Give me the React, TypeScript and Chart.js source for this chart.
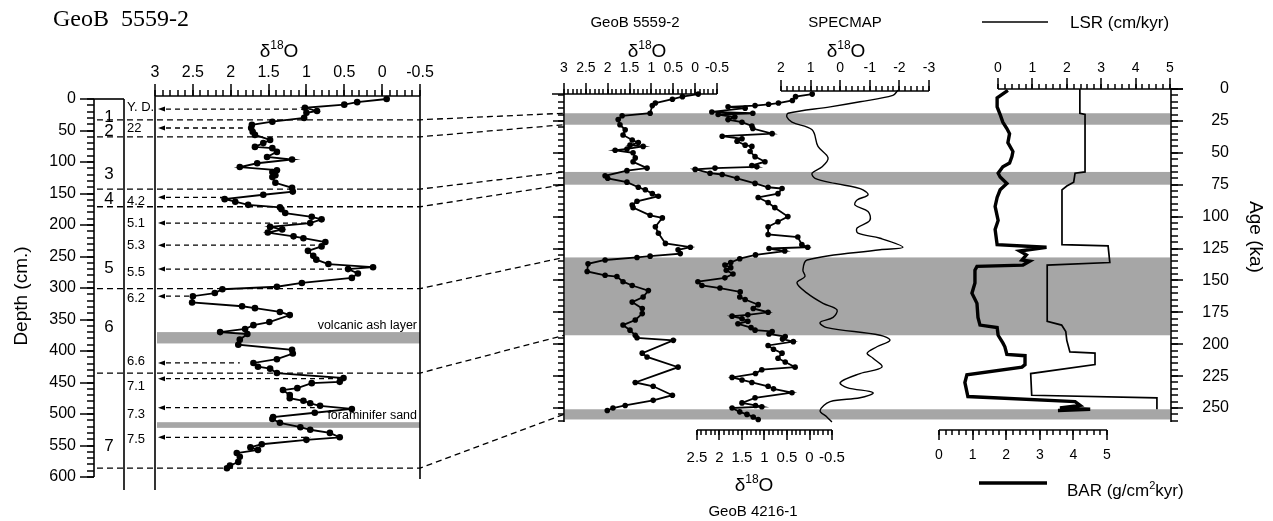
import React, { useEffect, useRef } from "react";
import { Chart, registerables } from "chart.js";
Chart.register(...registerables);

const W = 1273, H = 521, PAD = 20;
const FF = '"Liberation Sans", Arial, Helvetica, sans-serif';
const SERIF = '"Liberation Serif", "Times New Roman", serif';
const GRAY = "#a6a6a6";

// ---------------- data ----------------
// GeoB 5559-2 : d18O versus depth (cm)
const coreDepth = [0,5,9,14,19,22,30,36,41,46,52,57,65,70,76,78,84,92,96,102,108,113,116,121,124,133,141,147,152,159,163,168,172,175,181,187,191,197,203,207,212,218,221,227,234,241,249,255,262,267,270,277,284,292,298,302,308,313,323,329,332,338,343,354,359,365,370,373,382,390,398,404,413,419,425,428,435,443,449,451,459,462,470,475,479,483,487,492,498,505,508,514,521,525,530,537,541,548,553,557,562,568,576,582,586];
const coreD18O = [-0.06,0.33,0.50,1.02,0.86,1.00,1.03,1.45,1.72,1.73,1.71,1.68,1.48,1.57,1.68,1.45,1.39,1.52,1.19,1.65,1.88,1.39,1.45,1.41,1.45,1.41,1.19,1.18,1.57,2.08,1.94,1.77,1.35,1.33,1.28,0.93,0.80,0.95,1.48,1.32,1.51,1.17,1.04,0.75,0.80,0.98,0.91,0.87,0.71,0.12,0.45,0.32,0.40,1.06,1.39,2.11,2.21,2.50,2.51,1.85,1.68,1.35,1.22,1.49,1.70,1.81,2.14,1.78,1.88,1.90,1.19,1.18,1.39,1.70,1.64,1.48,1.39,0.51,0.56,0.93,1.12,1.31,1.22,1.22,1.04,0.95,0.82,0.40,0.89,1.44,1.45,1.35,1.08,0.95,0.69,0.56,1.00,1.59,1.74,1.64,1.92,1.88,1.90,2.01,2.05];
// GeoB 5559-2 : d18O versus age (ka)
const geoB5559Age = [4,6,8,11,13,19,21,24,28,32,36,40,42,44,45,47,48,50,54,57,62,64,68,70,73,77,79,82,84,88,91,93,99,101,108,113,121,124,126,129,131,132,134,137,143,146,147,151,154,158,163,167,172,176,181,185,189,193,195,197,207,210,218,230,233,240,244,248,250,252];
const geoB5559D18O = [-0.07,0.29,0.52,0.91,0.98,1.03,1.67,1.76,1.72,1.60,1.65,1.44,1.30,1.49,1.19,1.56,1.83,1.42,1.37,1.42,1.10,1.56,2.06,2.00,1.56,1.30,1.14,0.98,0.84,1.33,1.44,1.42,1.03,0.75,0.91,0.84,0.68,0.11,0.39,0.34,1.03,1.33,2.06,2.45,2.47,2.06,1.79,1.65,1.44,1.07,1.19,1.44,1.21,1.21,1.37,1.65,1.49,1.37,1.33,0.50,1.21,1.10,0.39,1.37,0.96,0.52,0.96,1.60,1.88,2.01];
// GeoB 4216-1 : d18O versus age (ka)
const geoB4216Age = [4,6,9,11,12,13,14,15,18,19,20,22,24,26,29,31,35,37,39,41,44,45,49,53,57,60,61,62,63,66,67,70,74,77,78,82,85,89,93,100,104,108,114,116,122,124,125,127,130,133,136,138,140,142,145,148,151,154,156,159,163,165,169,172,175,177,178,180,182,184,187,189,190,192,194,196,198,201,204,207,211,214,218,220,223,226,228,230,233,235,238,242,246,248,249,250,253,255,257,259];
const geoB4216D18O = [-0.06,0.31,0.38,0.69,0.91,1.21,1.81,1.43,2.17,1.26,2.03,1.66,1.81,1.50,1.28,1.26,0.83,1.94,1.50,1.61,1.43,1.28,1.32,1.21,0.99,1.28,1.17,2.10,2.54,2.21,1.94,1.61,1.21,0.92,0.61,0.70,1.14,0.92,0.77,0.48,0.70,0.92,0.92,0.26,0.17,0.04,0.90,0.55,1.20,1.55,1.75,1.88,1.75,1.85,1.70,1.88,2.48,2.39,1.99,1.54,1.55,1.43,1.14,1.25,0.92,1.37,1.72,1.50,1.37,1.59,1.30,1.21,0.83,0.90,0.54,0.60,0.36,0.92,0.80,0.61,0.70,0.54,0.32,1.06,1.20,1.72,1.50,1.28,0.92,0.80,0.39,1.21,1.50,1.20,1.06,1.72,1.55,1.39,1.25,1.14];
// SPECMAP stack
const specmapAge = [1,5,10,14,19,22,26,32,45,54,61,66,70,74,77,79,83,87,91,96,103,109,113,117,124,126,134,142,147,152,160,168,173,179,183,187,193,197,202,207,211,218,223,230,234,238,242,245,252,257,261];
const specmapD18O = [-1.95,-1.78,-0.67,0.34,1.76,1.80,1.63,0.95,0.75,0.41,0.61,0.95,0.85,0.18,-0.50,-0.77,-0.94,-0.57,-0.50,-0.94,-1.00,-0.57,-0.60,-1.35,-2.12,-1.35,1.12,1.26,1.19,1.46,1.12,0.58,0.11,0.24,0.68,0.45,-1.35,-1.68,-1.24,-0.91,-1.11,-1.41,-0.67,0.00,-0.23,-1.11,-0.67,0.34,0.68,0.45,0.28];
// LSR (cm/kyr)
const lsrAge = [0,19,20,65,66,73,76,79,122,123,136,138,182,185,190,197,206,207,216,223,240,242,251];
const lsrValue = [2.38,2.38,2.53,2.53,2.24,2.20,2.00,1.86,1.86,3.20,3.25,1.43,1.43,1.85,1.97,2.00,2.09,2.82,2.82,0.95,0.98,4.62,4.62];
// BAR (g/cm2 kyr)
const barAge = [1,7,14,20,26,31,35,42,49,53,58,61,66,69,74,79,85,92,103,110,122,124,127,130,134,135,138,139,142,152,160,168,179,185,187,193,199,202,208,209,216,218,224,230,241,245,248,250,251,252];
const barValue = [2.05,1.73,1.73,1.82,1.90,2.02,2.10,2.05,2.20,2.17,2.10,1.90,1.76,1.82,2.02,1.82,1.73,1.67,1.76,1.67,1.73,3.20,2.40,2.60,2.47,2.70,2.50,1.13,1.07,1.07,0.98,1.13,1.16,1.22,1.73,1.76,1.90,1.96,2.02,2.56,2.56,2.47,0.83,0.77,0.86,4.05,4.20,3.60,4.50,3.54];

// stages, events, layers
const stageNames = ["1","2","3","4","5","6","7"];
const stageLabelDepth = [29,52,119,160,268,363,551];
const stageBoundaryDepth = [33,60,143,171,301,435,586];
const stageBoundaryAge = [19,28,65,75,132,193,255];
const eventNames = ["Y. D.","22","4.2","5.1","5.3","5.5","6.2","6.6","7.1","7.3","7.5"];
const eventLabelDepth = [14,47,162,197,232,276,316,417,457,500,540];
const eventArrowDepth = [16,46,156,197,232,270,313,419,444,490,537];
const eventArrowEnd = [0.99,1.84,2.08,0.95,0.82,0.42,2.54,1.88,0.56,0.89,0.95];
const layerNames = ["volcanic ash layer","foraminifer sand"];
const layerDepths = [[370,388],[513,522]];
const layerLabelDepth = [359,503];
const glacialAges = [[19,28],[65,75],[132,193],[251,259]];

// tick labels
const d18OTicks = [3,2.5,2,1.5,1,0.5,0,-0.5];
const d18OLabels = ["3","2.5","2","1.5","1","0.5","0","-0.5"];
const d2Ticks = [2.5,2,1.5,1,0.5,0,-0.5];
const d2Labels = ["2.5","2","1.5","1","0.5","0","-0.5"];
const specTicks = [2,1,0,-1,-2,-3];
const specLabels = ["2","1","0","-1","-2","-3"];
const rateTicks = [0,1,2,3,4,5];
const rateLabels = ["0","1","2","3","4","5"];
const depthTicks = [0,50,100,150,200,250,300,350,400,450,500,550,600];
const depthLabels = ["0","50","100","150","200","250","300","350","400","450","500","550","600"];
const ageTicks = [0,25,50,75,100,125,150,175,200,225,250];
const ageLabels = ["0","25","50","75","100","125","150","175","200","225","250"];

// ---------------- layout: pixel anchors of each value scale ----------------
const MAP: any = {
  dL: [3, 155, -0.5, 420],
  depth: [0, 99, 600, 477],
  d1: [3, 564, -0.5, 717],
  age: [0, 89, 250, 408],
  spec: [2, 781, -3, 929],
  lsr: [0, 998, 5, 1170],
  d2: [2.5, 697, -0.5, 832],
  bar: [0, 939, 5, 1107],
};
const VERTICAL: any = { depth: true, age: true };
function valAt(map: string, px: number) {
  const [v1, p1, v2, p2] = MAP[map];
  return v1 + (px - p1) * (v2 - v1) / (p2 - p1);
}
function rangeFor(map: string, area: any) {
  const vertical = !!VERTICAL[map];
  const start = vertical ? area.top : area.left;
  const len = vertical ? area.bottom - area.top : area.right - area.left;
  const [v1, p1, v2, p2] = MAP[map];
  const s = (p2 - p1) / (v2 - v1);
  const a = v1 + (start - p1) / s, b = v1 + (start + len - p1) / s;
  return { min: Math.min(a, b), max: Math.max(a, b), reverse: vertical ? s > 0 : s < 0 };
}
function steps(a: number, b: number, st: number) {
  const n = Math.round(Math.abs(b - a) / st);
  const sg = b > a ? 1 : -1;
  return Array.from({ length: n + 1 }, (_, i) => Math.round((a + sg * i * st) * 1000) / 1000);
}

// rulers: "cross" = perpendicular scale used to place the ruler on its pixel line
const RULERS: any[] = [
  { id: "rDL", map: "dL", cross: "age", line: 96, dir: -1, majorLen: 12, minorLen: 6, major: d18OTicks, minor: steps(3, -0.5, 0.1), labels: d18OLabels, labelPos: 73, font: 16 },
  { id: "rDepth", map: "depth", cross: "d1", line: 94, dir: -1, majorLen: 14, minorLen: 7, major: depthTicks, minor: steps(0, 600, 10), labels: depthLabels, labelPos: 76, font: 16 },
  { id: "rD1", map: "d1", cross: "age", line: 94, dir: -1, majorLen: 11, minorLen: 5, major: d18OTicks, minor: steps(3, -0.5, 0.1), labels: d18OLabels, labelPos: 68, font: 14 },
  { id: "rAgeM", map: "age", cross: "d1", line: 564, dir: -1, majorLen: 11, minorLen: 6, major: ageTicks.slice(1), minor: steps(5, 260, 5) },
  { id: "rSpec", map: "spec", cross: "age", line: 91, dir: -1, majorLen: 11, minorLen: 5, major: specTicks, minor: steps(2, -3, 0.2), labels: specLabels, labelPos: 68, font: 14 },
  { id: "rLsr", map: "lsr", cross: "age", line: 89, dir: -1, majorLen: 11, minorLen: 5, major: rateTicks, minor: steps(0, 5, 0.2), labels: rateLabels, labelPos: 68, font: 14 },
  { id: "rAge", map: "age", cross: "lsr", line: 1171, dir: 1, majorLen: 12, minorLen: 7, major: ageTicks, minor: steps(0, 260, 5), labels: ageLabels, labelPos: 1229, font: 16 },
  { id: "rD2", map: "d2", cross: "age", line: 430, dir: 1, majorLen: 10, minorLen: 5, major: d2Ticks, minor: steps(2.5, -0.5, 0.1), labels: d2Labels, labelPos: 458, font: 15 },
  { id: "rBar", map: "bar", cross: "age", line: 430, dir: 1, majorLen: 10, minorLen: 5, major: rateTicks, minor: steps(0, 5, 0.2), labels: rateLabels, labelPos: 455, font: 14 },
];

function buildScales(area: any) {
  const scales: any = {};
  Object.keys(MAP).forEach((m) => {
    const rg = rangeFor(m, area);
    scales[m] = { type: "linear", axis: VERTICAL[m] ? "y" : "x", display: false, bounds: "data", min: rg.min, max: rg.max, reverse: rg.reverse };
  });
  for (const r of RULERS) {
    const rg = rangeFor(r.map, area);
    const isY = !!VERTICAL[r.map];
    const posVal = (px: number) => ({ [r.cross]: valAt(r.cross, px) });
    const common = { type: "linear", axis: isY ? "y" : "x", display: true, min: rg.min, max: rg.max, reverse: rg.reverse, bounds: "data", border: { display: false } };
    const tickScale = (vals: number[], L: number) => {
      let p: number;
      if (!isY) p = r.dir < 0 ? r.line - L : r.line;
      else p = r.dir < 0 ? r.line : r.line + L;
      return {
        ...common,
        position: posVal(p),
        afterBuildTicks: (s: any) => { s.ticks = vals.map((v) => ({ value: v })); },
        grid: { display: true, drawOnChartArea: false, drawTicks: true, tickLength: L, tickColor: "#000", tickWidth: 1.5, color: "rgba(0,0,0,0)", lineWidth: 0 },
        ticks: { display: false, maxTicksLimit: 1000, autoSkip: false },
      };
    };
    scales[r.id + "_mj"] = tickScale(r.major, r.majorLen);
    scales[r.id + "_mn"] = tickScale(r.minor, r.minorLen);
    if (r.labels) {
      const lh = r.font * 1.2;
      const p = !isY ? r.labelPos - lh / 2 : r.labelPos;
      scales[r.id + "_lb"] = {
        ...common,
        position: posVal(p),
        afterBuildTicks: (s: any) => { s.ticks = r.major.map((v: number) => ({ value: v })); },
        grid: { display: false, drawTicks: false, drawOnChartArea: false },
        ticks: { display: true, autoSkip: false, maxTicksLimit: 1000, maxRotation: 0, minRotation: 0, padding: 0, color: "#000", font: { family: FF, size: r.font }, callback: (_v: any, i: number) => r.labels[i] },
      };
    }
  }
  return scales;
}

const pts = (ys: number[], xs: number[]) => ys.map((y, i) => ({ x: xs[i], y }));

function txt(ctx: any, s: string, x: number, y: number, size: number, align = "center", family = FF) {
  ctx.font = `${size}px ${family}`;
  ctx.textAlign = align;
  ctx.textBaseline = "middle";
  ctx.fillText(s, x, y);
}
function rich(ctx: any, parts: [string, boolean][], x: number, y: number, size: number, align = "center") {
  const big = `${size}px ${FF}`, small = `${Math.round(size * 0.65)}px ${FF}`;
  let total = 0;
  const ws = parts.map(([t, sup]) => { ctx.font = sup ? small : big; const w = ctx.measureText(t).width; total += w; return w; });
  let cx = align === "center" ? x - total / 2 : x;
  const base = y + size * 0.36;
  ctx.textAlign = "left";
  ctx.textBaseline = "alphabetic";
  parts.forEach(([t, sup], i) => {
    ctx.font = sup ? small : big;
    ctx.fillText(t, cx, sup ? base - size * 0.4 : base);
    cx += ws[i];
  });
}
const delta = (ctx: any, x: number, y: number) => rich(ctx, [["δ", false], ["18", true], ["O", false]], x, y, 19);

const decor = {
  id: "decor",
  beforeDatasetsDraw(chart: any) {
    const { ctx, scales: s } = chart;
    ctx.save();
    ctx.fillStyle = GRAY;
    const lx1 = s.dL.getPixelForValue(3), lx2 = s.dL.getPixelForValue(-0.5);
    layerDepths.forEach(([a, b]) => {
      const y1 = s.depth.getPixelForValue(a), y2 = s.depth.getPixelForValue(b);
      ctx.fillRect(lx1 + 2, y1, lx2 - lx1 - 2, y2 - y1);
    });
    const mx1 = s.d1.getPixelForValue(3), mx2 = s.lsr.getPixelForValue(5);
    glacialAges.forEach(([a, b]) => {
      const y1 = s.age.getPixelForValue(a), y2 = s.age.getPixelForValue(b);
      ctx.fillRect(mx1 + 1, y1, mx2 - mx1 - 1, y2 - y1);
    });
    ctx.restore();
  },
  afterDatasetsDraw(chart: any) {
    const { ctx, scales: s } = chart;
    ctx.save();
    ctx.strokeStyle = "#000";
    ctx.fillStyle = "#000";
    ctx.lineWidth = 1.6;
    const line = (x1: number, y1: number, x2: number, y2: number) => { ctx.beginPath(); ctx.moveTo(x1, y1); ctx.lineTo(x2, y2); ctx.stroke(); };
    const dTop = s.depth.getPixelForValue(0), dBot = s.depth.getPixelForValue(600);
    const lx1 = s.dL.getPixelForValue(3), lx2 = s.dL.getPixelForValue(-0.5);
    line(94, dTop, 94, dBot);
    line(94, dTop, 124, dTop);
    line(124, dTop, 124, 490);
    line(lx1, 96, lx1, 490);
    line(lx2, 96, lx2, 479);
    line(lx1, 96, lx2, 96);
    const mx1 = s.d1.getPixelForValue(3);
    line(552, 94, s.d1.getPixelForValue(-0.5), 94);
    line(mx1, 94, mx1, 422);
    line(s.spec.getPixelForValue(2), 91, s.spec.getPixelForValue(-3), 91);
    line(s.lsr.getPixelForValue(0), 89, 1183, 89);
    line(1171, 89, 1171, 422);
    line(s.d2.getPixelForValue(2.5), 430, s.d2.getPixelForValue(-0.5), 430);
    line(s.bar.getPixelForValue(0), 430, s.bar.getPixelForValue(5), 430);

    // stage boundaries and tie lines
    ctx.lineWidth = 1.3;
    ctx.setLineDash([6, 4]);
    stageBoundaryDepth.forEach((d, i) => {
      const y1 = s.depth.getPixelForValue(d);
      const y2 = s.age.getPixelForValue(stageBoundaryAge[i]);
      ctx.beginPath();
      ctx.moveTo(97, y1);
      ctx.lineTo(lx2, y1);
      ctx.lineTo(mx1, y2);
      ctx.stroke();
    });
    // event arrows
    ctx.setLineDash([5, 4]);
    eventArrowDepth.forEach((d, i) => {
      const y = s.depth.getPixelForValue(d);
      const x0 = lx1 + 3;
      const x1 = s.dL.getPixelForValue(eventArrowEnd[i]);
      ctx.beginPath();
      ctx.moveTo(x0 + 8, y);
      ctx.lineTo(x1, y);
      ctx.stroke();
      ctx.beginPath();
      ctx.moveTo(x0, y);
      ctx.lineTo(x0 + 7, y - 2.5);
      ctx.lineTo(x0 + 7, y + 2.5);
      ctx.closePath();
      ctx.fill();
    });
    ctx.setLineDash([]);
    // legend lines
    ctx.lineWidth = 1.6;
    line(982, 22, 1048, 22);
    ctx.lineWidth = 3.4;
    line(979, 483, 1047, 483);
    ctx.restore();
  },
  afterDraw(chart: any) {
    const { ctx, scales: s } = chart;
    ctx.save();
    ctx.fillStyle = "#000";
    txt(ctx, "GeoB  5559-2", 53, 20, 24, "left", SERIF);
    delta(ctx, 279, 50);
    ctx.save();
    ctx.translate(22, 296);
    ctx.rotate(-Math.PI / 2);
    txt(ctx, "Depth (cm.)", 0, 0, 19);
    ctx.restore();
    stageNames.forEach((n, i) => txt(ctx, n, 109, s.depth.getPixelForValue(stageLabelDepth[i]), 17));
    eventNames.forEach((n, i) => txt(ctx, n, 127, s.depth.getPixelForValue(eventLabelDepth[i]), 13, "left"));
    layerNames.forEach((n, i) => txt(ctx, n, 417, s.depth.getPixelForValue(layerLabelDepth[i]), 12.5, "right"));
    txt(ctx, "GeoB 5559-2", 635, 23, 15);
    delta(ctx, 647, 50);
    txt(ctx, "SPECMAP", 845, 23, 15);
    delta(ctx, 846, 50);
    txt(ctx, "LSR (cm/kyr)", 1070, 23, 17, "left");
    delta(ctx, 754, 484);
    txt(ctx, "GeoB 4216-1", 753, 512, 15);
    rich(ctx, [["BAR (g/cm", false], ["2", true], ["kyr)", false]], 1067, 490, 17, "left");
    ctx.save();
    ctx.translate(1255, 237);
    ctx.rotate(Math.PI / 2);
    txt(ctx, "Age (ka)", 0, 0, 19);
    ctx.restore();
    ctx.restore();
  },
};

export default function App() {
  const ref = useRef<HTMLCanvasElement>(null);
  useEffect(() => {
    const canvas = ref.current!;
    const marker = (r: number) => ({
      showLine: true, borderColor: "#000", borderWidth: 1.8, pointRadius: r, pointBackgroundColor: "#000",
      pointBorderColor: "#000", pointBorderWidth: 0, pointHoverRadius: r, tension: 0, clip: false,
    });
    const plain = (w: number, t: number) => ({
      showLine: true, borderColor: "#000", borderWidth: w, pointRadius: 0, pointHoverRadius: 0, tension: t, clip: false,
    });
    const datasets: any[] = [
      { label: "GeoB 5559-2 (depth)", data: pts(coreDepth, coreD18O), xAxisID: "dL", yAxisID: "depth", ...marker(3.3) },
      { label: "GeoB 5559-2 (age)", data: pts(geoB5559Age, geoB5559D18O), xAxisID: "d1", yAxisID: "age", ...marker(2.8) },
      { label: "GeoB 4216-1", data: pts(geoB4216Age, geoB4216D18O), xAxisID: "d2", yAxisID: "age", ...marker(2.8) },
      { label: "SPECMAP", data: pts(specmapAge, specmapD18O), xAxisID: "spec", yAxisID: "age", ...plain(1.4, 0.35) },
      { label: "LSR", data: pts(lsrAge, lsrValue), xAxisID: "lsr", yAxisID: "age", ...plain(1.7, 0) },
      { label: "BAR", data: pts(barAge, barValue), xAxisID: "bar", yAxisID: "age", ...plain(3.4, 0) },
    ];
    let used = { left: PAD, top: PAD, right: W - PAD, bottom: H - PAD };
    const chart = new Chart(canvas, {
      type: "scatter",
      data: { datasets },
      options: {
        responsive: false,
        animation: false,
        devicePixelRatio: 1,
        events: [],
        layout: { padding: PAD },
        plugins: { legend: { display: false }, tooltip: { enabled: false }, title: { display: false } },
        scales: buildScales(used),
      } as any,
      plugins: [decor],
    });
    for (let k = 0; k < 3; k++) {
      const a = chart.chartArea;
      if (Math.abs(a.left - used.left) < 0.01 && Math.abs(a.right - used.right) < 0.01 && Math.abs(a.top - used.top) < 0.01 && Math.abs(a.bottom - used.bottom) < 0.01) break;
      used = { left: a.left, top: a.top, right: a.right, bottom: a.bottom };
      (chart.options as any).scales = buildScales(used);
      chart.update();
    }
    return () => chart.destroy();
  }, []);
  return (
    <div style={{ position: "absolute", left: 0, top: 0, width: W, height: H, background: "#fff" }}>
      <canvas ref={ref} width={W} height={H} style={{ width: W, height: H, display: "block" }} />
    </div>
  );
}
